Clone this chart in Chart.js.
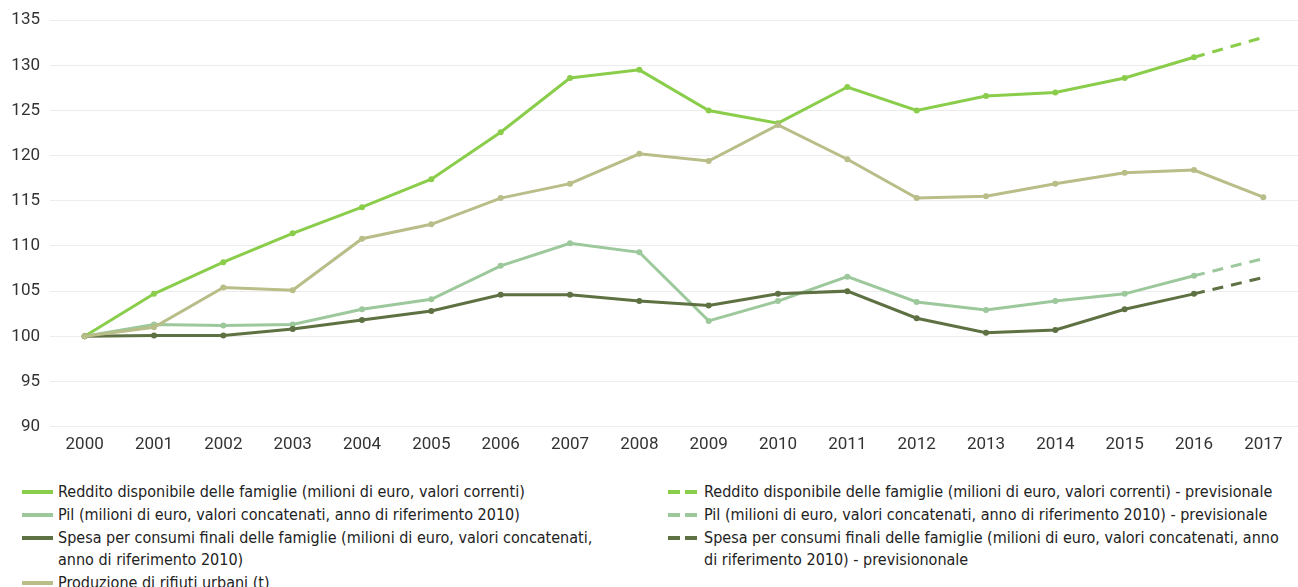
<!DOCTYPE html>
<html lang="it">
<head>
    <meta charset="UTF-8">
    <title>Reddito, Pil, spesa e rifiuti</title>
    <script src="https://cdn.jsdelivr.net/npm/chart.js@4.4.0/dist/chart.umd.min.js"></script>
    <style>
        body {
            margin: 0;
            background: #fff;
            width: 1298px;
            height: 587px;
            overflow: hidden;
        }
        #chart-box {
            position: absolute;
            left: 0;
            top: 0;
            width: 1302px;
            height: 455px;
        }
        .legend-col {
            position: absolute;
            top: 481px;
            font-family: "Liberation Sans Narrow", "DejaVu Sans Condensed", sans-serif;
            font-size: 16px;
            color: #222;
        }
        .legend-item {
            position: relative;
            padding-left: 36px;
            line-height: 22px;
            margin-bottom: 1px;
        }
        .swatch {
            position: absolute;
            left: 0;
            top: 9px;
            width: 31px;
            height: 4px;
        }
        .swatch.dash {
            background: none !important;
        }
        .swatch.dash span {
            position: absolute;
            top: 0;
            width: 12px;
            height: 4px;
        }
    </style>
</head>
<body>

<div id="chart-box"><canvas id="chart"></canvas></div>
<div class="legend-col" id="legend-left" style="left:22px; width:580px"></div>
<div class="legend-col" id="legend-right" style="left:668px; width:626px"></div>

<script>
    const years = ['2000', '2001', '2002', '2003', '2004', '2005', '2006', '2007', '2008',
        '2009', '2010', '2011', '2012', '2013', '2014', '2015', '2016', '2017'];

    const reddito = [100, 104.7, 108.2, 111.4, 114.3, 117.4, 122.6, 128.6, 129.5,
        125.0, 123.6, 127.6, 125.0, 126.6, 127.0, 128.6, 130.9, null];
    const pil = [100, 101.3, 101.2, 101.3, 103.0, 104.1, 107.8, 110.3, 109.3,
        101.7, 103.9, 106.6, 103.8, 102.9, 103.9, 104.7, 106.7, null];
    const spesa = [100, 100.1, 100.1, 100.8, 101.8, 102.8, 104.6, 104.6, 103.9,
        103.4, 104.7, 105.0, 102.0, 100.4, 100.7, 103.0, 104.7, null];
    const rifiuti = [100, 101.0, 105.4, 105.1, 110.8, 112.4, 115.3, 116.9, 120.2,
        119.4, 123.4, 119.6, 115.3, 115.5, 116.9, 118.1, 118.4, 115.4];

    // previsioni: solo 2016 -> 2017
    const redditoPrev = [null, null, null, null, null, null, null, null, null,
        null, null, null, null, null, null, null, 130.9, 133.1];
    const pilPrev = [null, null, null, null, null, null, null, null, null,
        null, null, null, null, null, null, null, 106.7, 108.6];
    const spesaPrev = [null, null, null, null, null, null, null, null, null,
        null, null, null, null, null, null, null, 104.7, 106.5];

    const yTicks = [90, 95, 100, 105, 110, 115, 120, 125, 130, 135];

    const labelReddito = 'Reddito disponibile delle famiglie (milioni di euro, valori correnti)';
    const labelPil = 'Pil (milioni di euro, valori concatenati, anno di riferimento 2010)';
    const labelSpesa = 'Spesa per consumi finali delle famiglie (milioni di euro, valori concatenati, anno di riferimento 2010)';
    const labelRifiuti = 'Produzione di rifiuti urbani (t)';

    const colReddito = '#8acd4a';
    const colPil = '#9cc89c';
    const colSpesa = '#5e7142';
    const colRifiuti = '#b9bd88';

    function line(label, data, color, order, dashed) {
        return {
            label: label,
            data: data,
            borderColor: color,
            backgroundColor: color,
            borderWidth: 3,
            borderDash: dashed ? [11, 8] : [],
            pointRadius: dashed ? 0 : 3,
            pointHoverRadius: 4,
            pointBorderWidth: 0,
            fill: false,
            tension: 0,
            spanGaps: false,
            order: order
        };
    }

    const datasets = [
        line(labelReddito, reddito, colReddito, 4, false),
        line(labelPil, pil, colPil, 3, false),
        line(labelSpesa, spesa, colSpesa, 2, false),
        line(labelRifiuti, rifiuti, colRifiuti, 1, false),
        line(labelReddito + ' - previsionale', redditoPrev, colReddito, 5, true),
        line(labelPil + ' - previsionale', pilPrev, colPil, 6, true),
        line('Spesa per consumi finali delle famiglie (milioni di euro, valori concatenati, anno di riferimento 2010) - previsiononale', spesaPrev, colSpesa, 7, true)
    ];

    const tickFont = {family: 'Roboto', size: 17};

    new Chart(document.getElementById('chart'), {
        type: 'line',
        data: {labels: years, datasets: datasets},
        options: {
            responsive: true,
            maintainAspectRatio: false,
            animation: false,
            layout: {padding: {top: 12, right: 0, left: 0, bottom: 0}},
            plugins: {
                legend: {display: false},
                tooltip: {enabled: true}
            },
            scales: {
                x: {
                    offset: true,
                    grid: {display: false},
                    border: {display: false},
                    ticks: {color: '#333', font: tickFont, padding: 0, maxRotation: 0, autoSkip: false}
                },
                y: {
                    min: 90,
                    max: 135,
                    afterBuildTicks: (axis) => {
                        axis.ticks = yTicks.map(v => ({value: v}));
                    },
                    afterFit: (axis) => {
                        axis.width = 50;
                    },
                    grid: {color: '#ececec', drawTicks: false},
                    border: {display: false},
                    ticks: {color: '#333', font: tickFont, padding: 10}
                }
            }
        }
    });

    // legenda html
    function addItem(box, label, color, dashed) {
        const item = document.createElement('div');
        item.className = 'legend-item';
        const sw = document.createElement('div');
        sw.className = 'swatch' + (dashed ? ' dash' : '');
        if (dashed) {
            sw.innerHTML = '<span style="left:0;background:' + color + '"></span>' +
                '<span style="left:17px;background:' + color + '"></span>';
        } else {
            sw.style.background = color;
        }
        item.appendChild(sw);
        item.appendChild(document.createTextNode(label));
        box.appendChild(item);
    }

    const leftBox = document.getElementById('legend-left');
    const rightBox = document.getElementById('legend-right');
    for (let i = 0; i < 4; i++) {
        addItem(leftBox, datasets[i].label, datasets[i].borderColor, false);
    }
    for (let i = 4; i < datasets.length; i++) {
        addItem(rightBox, datasets[i].label, datasets[i].borderColor, true);
    }
</script>
</body>
</html>
